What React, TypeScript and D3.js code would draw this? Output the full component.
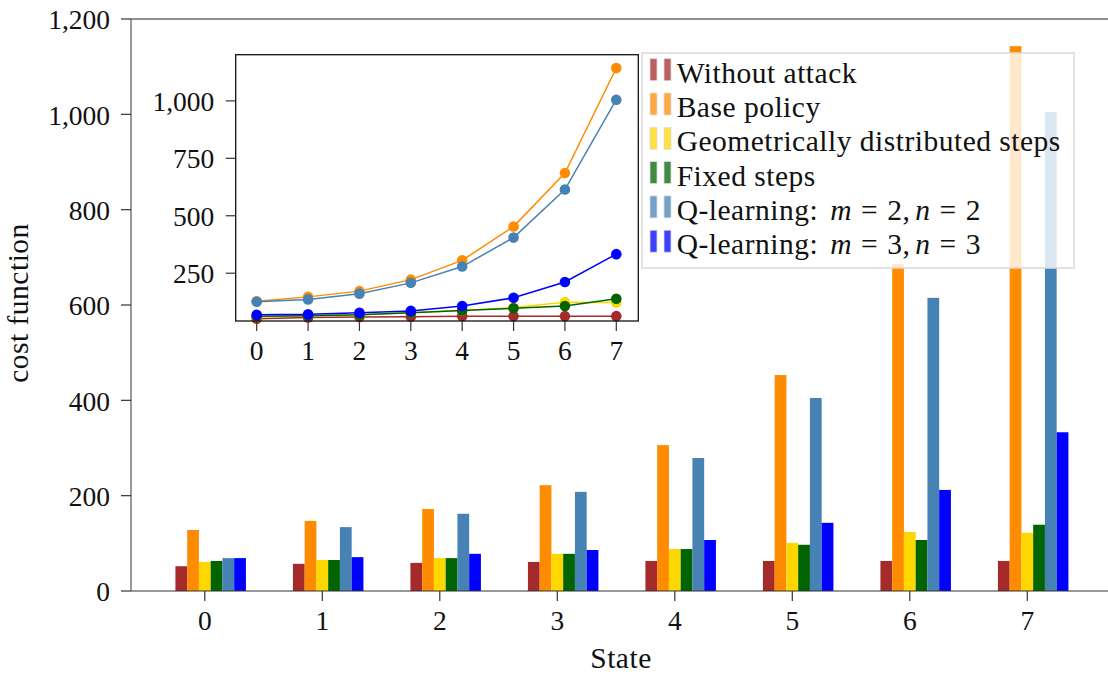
import React from "react";
import * as d3 from "d3";

// States on the horizontal axis
const states = [0, 1, 2, 3, 4, 5, 6, 7];

// Cost function per state for each attack strategy (bar chart)
const withoutAttack = [52, 57, 59, 61, 63, 63, 63, 63];
const basePolicy = [128, 147, 172, 222, 306, 453, 686, 1143];
const geometricSteps = [61, 65, 69, 78, 88, 101, 124, 122];
const fixedSteps = [63, 65, 69, 78, 88, 97, 107, 139];
const qLearning22 = [69, 134, 162, 208, 279, 405, 615, 1005];
const qLearning33 = [69, 71, 78, 86, 107, 143, 212, 333];

// Q-learning (m = 2, n = 2) curve as plotted in the inset
const qLearning22Inset = [126, 136, 161, 208, 279, 405, 614, 1005];

const seriesValues = [withoutAttack, basePolicy, geometricSteps, fixedSteps, qLearning22, qLearning33];
const insetValues = [withoutAttack, basePolicy, geometricSteps, fixedSteps, qLearning22Inset, qLearning33];
const seriesColors = ["#a52a2a", "#ff8c00", "#ffd700", "#006400", "#4682b4", "#0000ff"];

const yTicks = [0, 200, 400, 600, 800, 1000, 1200];
const insetYTicks = [250, 500, 750, 1000];

const FONT = "'Liberation Serif', 'Times New Roman', serif";
const NUM_SIZE = 27.5;
const WORD_SIZE = 29.5;
const WORD_SPACING = 0.5;
const fmt = d3.format(",");

function LegendLabel({ index }: { index: number }) {
  if (index === 0) return <>Without attack</>;
  if (index === 1) return <>Base policy</>;
  if (index === 2) return <>Geometrically distributed steps</>;
  if (index === 3) return <>Fixed steps</>;
  const k = index === 4 ? 2 : 3;
  return (
    <>
      Q-learning:
      <tspan dx={12} fontStyle="italic">m</tspan>
      <tspan dx={9}>=</tspan>
      <tspan dx={9}>{`${k},`}</tspan>
      <tspan dx={5} fontStyle="italic">n</tspan>
      <tspan dx={9}>=</tspan>
      <tspan dx={9}>{`${k}`}</tspan>
    </>
  );
}

export default function App() {
  const W = 1108;
  const H = 676;

  // main axes
  const x = d3.scaleLinear().domain([0, 7]).range([204.8, 1027.3]);
  const y = d3.scaleLinear().domain([0, 1200]).range([591, 19]);
  const barStep = 0.1;
  const barW = x(barStep) - x(0);
  const left = 131;

  // inset axes
  const xi = d3.scaleLinear().domain([0, 7]).range([256.7, 616.3]);
  const yi = d3.scaleLinear().domain([42, 1201]).range([321, 54.7]);
  const ib = { x0: 235.7, x1: 638.3, y0: 54.7, y1: 321 };

  const line = d3
    .line<number>()
    .x((_, i) => xi(states[i]))
    .y((v) => yi(v));

  const legend = { x: 642, y: 53, w: 432, h: 215 };

  return (
    <svg
      width={W}
      height={H}
      style={{ position: "absolute", left: 0, top: 0, background: "#fff" }}
      fontFamily={FONT}
    >
      <rect width={W} height={H} fill="#fff" />

      {/* bars */}
      {seriesValues.map((vals, si) =>
        vals.map((v, k) => {
          const cx = x(states[k] + (si - 2) * barStep);
          return (
            <rect
              key={`b${si}-${k}`}
              x={cx - barW / 2}
              y={y(v)}
              width={barW}
              height={y(0) - y(v)}
              fill={seriesColors[si]}
            />
          );
        })
      )}

      {/* spines */}
      <line x1={left} x2={W} y1={y(1200)} y2={y(1200)} stroke="#222" strokeWidth={1.2} />
      <line x1={left} x2={left} y1={y(1200)} y2={y(0)} stroke="#555" strokeWidth={1.2} />
      <line x1={left} x2={W} y1={y(0)} y2={y(0)} stroke="#333" strokeWidth={1.2} />

      {/* y axis */}
      {yTicks.map((t) => (
        <g key={`yt${t}`}>
          <line x1={left - 10} x2={left} y1={y(t)} y2={y(t)} stroke="#333" strokeWidth={1.2} />
          <text x={110} y={y(t)} dy="0.37em" textAnchor="end" fontSize={NUM_SIZE} fill="#111">
            {fmt(t)}
          </text>
        </g>
      ))}
      <text
        transform={`translate(28,303) rotate(-90)`}
        textAnchor="middle"
        fontSize={WORD_SIZE}
        letterSpacing={WORD_SPACING}
        fill="#111"
      >
        cost function
      </text>

      {/* x axis */}
      {states.map((s) => (
        <g key={`xt${s}`}>
          <line x1={x(s)} x2={x(s)} y1={y(0)} y2={y(0) + 10} stroke="#333" strokeWidth={1.2} />
          <text x={x(s)} y={630} textAnchor="middle" fontSize={NUM_SIZE} fill="#111">
            {s}
          </text>
        </g>
      ))}
      <text x={621} y={668} textAnchor="middle" fontSize={WORD_SIZE} letterSpacing={WORD_SPACING} fill="#111">
        State
      </text>

      {/* legend */}
      <rect
        x={legend.x}
        y={legend.y}
        width={legend.w}
        height={legend.h}
        fill="#fff"
        fillOpacity={0.8}
        stroke="#d9d9d9"
        strokeWidth={1.5}
      />
      {seriesColors.map((c, i) => {
        const base = 82.7 + i * 34.3;
        return (
          <g key={`lg${i}`}>
            <rect x={650} y={base - 24} width={7} height={22} fill={c} fillOpacity={0.75} stroke="#ddd" strokeWidth={0.8} />
            <rect x={664} y={base - 24} width={7} height={22} fill={c} fillOpacity={0.75} stroke="#ddd" strokeWidth={0.8} />
            <text x={676.7} y={base} fontSize={WORD_SIZE} letterSpacing={WORD_SPACING} fill="#111">
              <LegendLabel index={i} />
            </text>
          </g>
        );
      })}

      {/* inset */}
      <rect x={ib.x0} y={ib.y0} width={ib.x1 - ib.x0} height={ib.y1 - ib.y0} fill="#fff" />
      <g>
        <clipPath id="insetClip">
          <rect x={ib.x0} y={ib.y0 - 8} width={ib.x1 - ib.x0} height={ib.y1 - ib.y0 + 16} />
        </clipPath>
        <g clipPath="url(#insetClip)">
          {insetValues.map((vals, si) => (
            <g key={`il${si}`}>
              <path d={line(vals) || ""} fill="none" stroke={seriesColors[si]} strokeWidth={1.5} />
              {vals.map((v, k) => (
                <circle key={k} cx={xi(states[k])} cy={yi(v)} r={5.3} fill={seriesColors[si]} />
              ))}
            </g>
          ))}
        </g>
      </g>
      <rect
        x={ib.x0}
        y={ib.y0}
        width={ib.x1 - ib.x0}
        height={ib.y1 - ib.y0}
        fill="none"
        stroke="#111"
        strokeWidth={1.3}
      />
      {insetYTicks.map((t) => (
        <g key={`iyt${t}`}>
          <line x1={ib.x0 - 10} x2={ib.x0} y1={yi(t)} y2={yi(t)} stroke="#333" strokeWidth={1.2} />
          <text x={214.3} y={yi(t)} dy="0.37em" textAnchor="end" fontSize={NUM_SIZE} fill="#111">
            {fmt(t)}
          </text>
        </g>
      ))}
      {states.map((s) => (
        <g key={`ixt${s}`}>
          <line x1={xi(s)} x2={xi(s)} y1={ib.y1} y2={ib.y1 + 10} stroke="#333" strokeWidth={1.2} />
          <text x={xi(s)} y={360} textAnchor="middle" fontSize={NUM_SIZE} fill="#111">
            {s}
          </text>
        </g>
      ))}
    </svg>
  );
}
